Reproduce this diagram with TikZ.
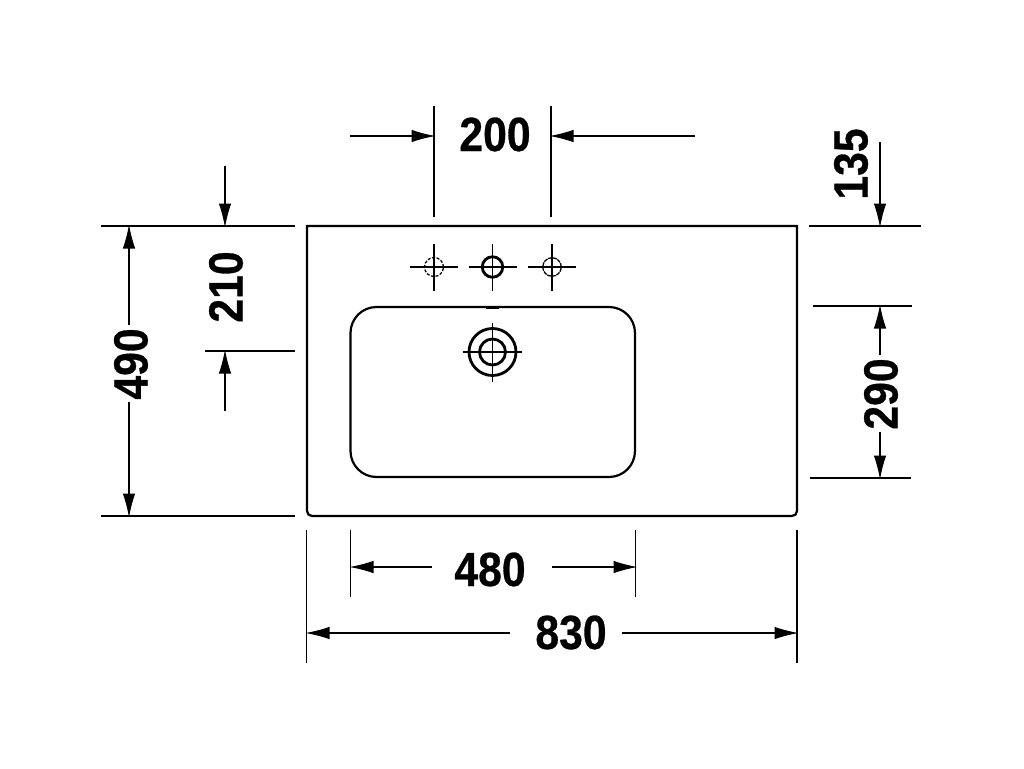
\documentclass[tikz,border=0pt]{standalone}
\usepackage{fontspec}
\setmainfont{Liberation Sans}[FakeStretch=0.89, BoldFeatures={FakeBold=0.6}]
\usetikzlibrary{arrows.meta}
\begin{document}
\begin{tikzpicture}[x=1pt, y=-1pt,
  thin line/.style = {draw=black, line width=1.15pt},
  dim arrow/.style = {thin line, shorten >=-1.5pt, -{Latex[length=24pt, width=12.5pt]}},
  body line/.style = {draw=black, line width=2.2pt},
  cross line/.style = {draw=black, line width=1.3pt},
  dim label/.style = {font=\fontsize{48}{48}\selectfont\bfseries, inner sep=0pt, text=black}]

\useasboundingbox (0, 0) rectangle (1024, 768);
\fill[white] (0, 0) rectangle (1024, 768);

% basin
\draw[body line] (307, 226) -- (797, 226) [rounded corners=5pt] -- (797, 516) -- (307, 516) [sharp corners] -- cycle;
\draw[body line, rounded corners=26pt] (350.5, 307) rectangle (635, 477);
\draw[line width=3.2pt] (486, 307.5) -- (499, 307.5);

% tap holes
\node[draw, circle, dash pattern=on 3pt off 1.6pt, line width=1.3pt, minimum size=19pt, inner sep=0pt] (H1) at (434, 267) {};
\node[draw, circle, line width=2.8pt, minimum size=20.5pt, inner sep=0pt] (H2) at (492.5, 267) {};
\node[draw, circle, dash pattern=on 4pt off 0.8pt, line width=1.3pt, minimum size=18.5pt, inner sep=0pt] (H3) at (552, 267) {};

\draw[cross line] (410, 267) -- (458, 267);
\draw[cross line] (434, 244) -- (434, 291);
\draw[cross line] (469, 267) -- (517, 267);
\draw[cross line] (492.5, 244) -- (492.5, 291);
\draw[cross line] (528, 267) -- (576, 267);
\draw[cross line] (552, 244) -- (552, 291);

% drain
\node[draw, circle, line width=2.8pt, minimum size=47pt, inner sep=0pt] (D1) at (492.5, 352) {};
\node[draw, circle, line width=2.8pt, minimum size=26pt, inner sep=0pt] (D2) at (492.5, 352) {};
\draw[cross line] (463, 352) -- (522, 352);
\draw[cross line] (492.5, 323) -- (492.5, 382);

% labels
\node[dim label] (L200) at (495, 134.5) {200};
\node[dim label, rotate=90] (L135) at (851, 164) {135};
\node[dim label, rotate=90] (L490) at (131, 364) {490};
\node[dim label, rotate=90] (L210) at (226, 287) {210};
\node[dim label, rotate=90] (L290) at (881, 394) {290};
\node[dim label] (L480) at (490, 569.5) {480};
\node[dim label] (L830) at (571, 632.5) {830};

% extension lines
\draw[thin line] (434, 106) -- (434, 217);
\draw[thin line] (551, 106) -- (551, 217);
\draw[thin line] (809, 226) -- (921, 226);
\draw[thin line] (101, 226) -- (295, 226);
\draw[thin line] (101, 516) -- (295, 516);
\draw[thin line] (205, 351) -- (295, 351);
\draw[thin line] (813, 306) -- (912, 306);
\draw[thin line] (810, 478) -- (911, 478);
\draw[thin line] (350.5, 530) -- (350.5, 597);
\draw[thin line] (635.5, 530) -- (635.5, 597);
\draw[thin line] (306.5, 530) -- (306.5, 663);
\draw[thin line] (797, 530) -- (797, 663);

% arrows
\draw[dim arrow] (350, 136) -- (434, 136);
\draw[dim arrow] (695, 136) -- (551, 136);
\draw[dim arrow] (880, 142) -- (880, 226);
\draw[dim arrow] (129, 325) -- (129, 226);
\draw[dim arrow] (129, 402) -- (129, 516);
\draw[dim arrow] (225, 166) -- (225, 226);
\draw[dim arrow] (225, 411) -- (225, 351);
\draw[dim arrow] (880, 355) -- (880, 306);
\draw[dim arrow] (880, 432) -- (880, 478);
\draw[dim arrow] (432, 567) -- (351, 567);
\draw[dim arrow] (552, 567) -- (636, 567);
\draw[dim arrow] (510, 633) -- (307, 633);
\draw[dim arrow] (622, 633) -- (797, 633);

\end{tikzpicture}
\end{document}
